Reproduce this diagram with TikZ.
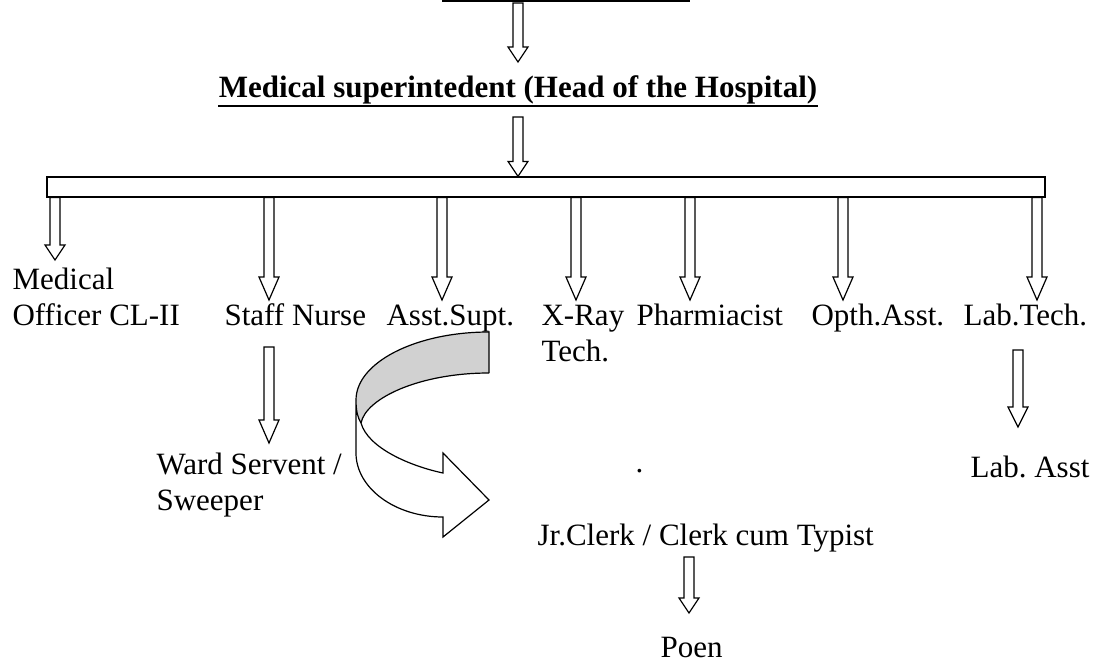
\documentclass[tikz,border=0pt]{standalone}
\usepackage{fontspec}
\setmainfont{Liberation Serif}
\usetikzlibrary{calc}
\definecolor{bandgrey}{gray}{0.82}
\frenchspacing
\tikzset{
  fat/.style={to path={let \p1=(\tikztostart), \p2=(\tikztotarget) in
    (\x2-5pt,\y1) -- (\x2-5pt,\y2+#1pt) -- (\x2-10pt,\y2+#1pt) -- (\x2,\y2)
    -- (\x2+10pt,\y2+#1pt) -- (\x2+5pt,\y2+#1pt) -- (\x2+5pt,\y1) -- cycle}},
  fat/.default=23,
  lbl/.style={anchor=base west, inner sep=0pt, align=left},
}
\begin{document}
\begin{tikzpicture}[x=1pt, y=-1pt, line width=1.2pt, font=\fontsize{31}{36}\selectfont]
    \useasboundingbox (0,0) rectangle (1101,664);

    % head of the chart
    \coordinate (top) at (518,3);
    \draw[line width=2pt] (442,1) -- (690,1);
    \node[anchor=base, inner sep=0pt, font=\bfseries\fontsize{31}{36}\selectfont] (title) at (518,97) {Medical superintedent (Head of the Hospital)};
    \draw[line width=2.5pt] ([yshift=-9pt]title.base west) -- ([yshift=-9pt]title.base east);
    \draw[fat=15] (top) to ([yshift=35pt]title.base);

    \node[draw, inner sep=0pt, minimum width=998pt, minimum height=20pt] (bar) at (546,187) {};
    \draw[fat=15] ([yshift=-20pt]title.base) to (bar.north -| title.base);

    % branch tips
    \coordinate (t1) at (55,260);
    \coordinate (t2) at (269,300);
    \coordinate (t3) at (442,300);
    \coordinate (t4) at (576,300);
    \coordinate (t5) at (690,300);
    \coordinate (t6) at (843,300);
    \coordinate (t7) at (1037,300);
    \draw[fat=15] (bar.south -| t1) to (t1);
    \foreach \t in {t2,t3,t4,t5,t6,t7}
        \draw[fat] (bar.south -| \t) to (\t);

    % first row (base of multi-line nodes = last line)
    \node[lbl] (med) at (12,325) {Medical\\Officer CL-II};
    \node[lbl] (nurse) at (224,325) {Staff Nurse};
    \node[lbl] (supt) at (386,325) {Asst.Supt.};
    \node[lbl] (xray) at (541,361) {X-Ray\\Tech.};
    \node[lbl] (pharm) at (636,325) {Pharmiacist};
    \node[lbl] (opth) at (811,325) {Opth.Asst.};
    \node[lbl] (labt) at (963,325) {Lab.Tech.};

    % second row
    \node[lbl] (ward) at (156,510) {Ward Servent /\\Sweeper};
    \node[lbl] (dot) at (635,472) {.};
    \node[lbl] (laba) at (970,477) {Lab. Asst};
    \node[lbl] (clerk) at (537,545) {Jr.Clerk / Clerk cum Typist};
    \node[lbl] (poen) at (660,657) {Poen};

    \coordinate (w1) at (269,347);
    \coordinate (w2) at (269,443);
    \draw[fat] (w1) to (w2);
    \coordinate (l1) at (1018,350);
    \coordinate (l2) at (1018,427);
    \draw[fat=20] (l1) to (l2);
    \coordinate (p1) at (689,557);
    \coordinate (p2) at (689,613);
    \draw[fat=15] (p1) to (p2);

    % curved arrow from Asst.Supt. to the clerk
    \fill[bandgrey] (489,332) .. controls (415.6,332) and (356,362.5) .. (356,400)
        .. controls (356,412) and (358,418) .. (361,423)
        .. controls (366,398) and (420,373) .. (489,373) -- cycle;
    \draw (489,373) -- (489,332) .. controls (415.6,332) and (356,362.5) .. (356,400);
    \draw[fill=white] (356,400) .. controls (356,412) and (358,418) .. (361,423)
        .. controls (368,448) and (410,466) .. (443,473) -- (443,453) -- (489,500)
        -- (443,537) -- (443,517) .. controls (395,517) and (356,488) .. (356,453) -- cycle;
    \draw (361,423) .. controls (366,398) and (420,373) .. (489,373);
\end{tikzpicture}
\end{document}
